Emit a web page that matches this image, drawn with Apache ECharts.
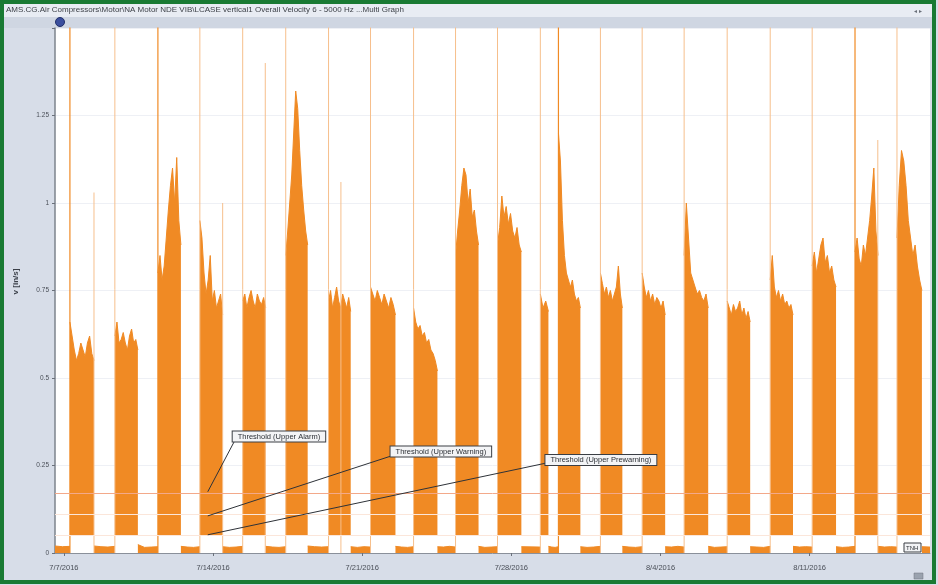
<!DOCTYPE html>
<html>
<head>
<meta charset="utf-8">
<script src="https://cdn.jsdelivr.net/npm/echarts@6/dist/echarts.min.js"></script>
<style>
  html, body { margin: 0; padding: 0; background: #ffffff; }
  #chart { width: 938px; height: 585px; }
</style>
</head>
<body>
<div id="chart"></div>
<script>
// ---- chart text ----
const chartTitle = 'AMS.CG.Air Compressors\\Motor\\NA Motor NDE VIB\\LCASE vertical1 Overall Velocity 6 - 5000 Hz ...Multi Graph';
const yAxisName = 'v [in/s]';

// ---- axes (x counted in days from 7/7/2016 00:00) ----
const xTickDays = [0, 7, 14, 21, 28, 35];
const yTickValues = [0, 0.25, 0.5, 0.75, 1, 1.25];
const axisStartDay = -0.42;
const axisEndDay = 40.65;

// ---- running periods: start / end day and the upper envelope of the readings ----
const runStartDay = [0.28, 2.39, 4.41, 6.38, 8.39, 10.41, 12.42, 14.39, 16.41, 18.38, 20.35, 22.36, 23.21, 25.18, 27.14, 29.11, 31.13, 33.15, 35.12, 37.13, 39.10];
const runEndDay   = [1.41, 3.47, 5.49, 7.45, 9.47, 11.44, 13.46, 15.56, 17.53, 19.46, 21.47, 22.74, 24.24, 26.21, 28.22, 30.24, 32.21, 34.22, 36.24, 38.21, 40.27];
const runFloor = 0.05;
const runEnvelope = [
  [0.66, 0.62, 0.58, 0.55, 0.57, 0.60, 0.58, 0.56, 0.60, 0.62, 0.57, 0.55],
  [0.62, 0.66, 0.60, 0.61, 0.63, 0.60, 0.58, 0.62, 0.64, 0.60, 0.61, 0.58],
  [0.80, 0.85, 0.78, 0.82, 0.90, 0.98, 1.05, 1.10, 1.00, 1.13, 0.95, 0.88],
  [0.95, 0.90, 0.80, 0.74, 0.78, 0.85, 0.72, 0.75, 0.70, 0.72, 0.74, 0.68],
  [0.72, 0.74, 0.70, 0.73, 0.75, 0.72, 0.70, 0.74, 0.72, 0.71, 0.73, 0.70],
  [0.85, 0.92, 1.00, 1.08, 1.20, 1.32, 1.27, 1.15, 1.05, 0.98, 0.92, 0.88],
  [0.72, 0.75, 0.70, 0.73, 0.76, 0.72, 0.70, 0.74, 0.72, 0.70, 0.73, 0.69],
  [0.76, 0.74, 0.72, 0.75, 0.73, 0.71, 0.74, 0.72, 0.70, 0.73, 0.71, 0.68],
  [0.70, 0.66, 0.64, 0.65, 0.62, 0.63, 0.60, 0.61, 0.58, 0.57, 0.55, 0.52],
  [0.85, 0.92, 0.98, 1.05, 1.10, 1.08, 1.00, 1.04, 0.96, 0.98, 0.92, 0.88],
  [0.88, 0.93, 1.02, 0.96, 0.99, 0.94, 0.97, 0.92, 0.90, 0.93, 0.88, 0.86],
  [0.74, 0.70, 0.72, 0.69],
  [1.20, 1.12, 0.95, 0.85, 0.80, 0.78, 0.76, 0.78, 0.74, 0.72, 0.73, 0.70],
  [0.80, 0.77, 0.74, 0.76, 0.73, 0.75, 0.72, 0.74, 0.76, 0.82, 0.74, 0.70],
  [0.80, 0.76, 0.73, 0.75, 0.72, 0.74, 0.71, 0.73, 0.72, 0.70, 0.72, 0.68],
  [0.85, 1.00, 0.90, 0.80, 0.78, 0.76, 0.74, 0.75, 0.73, 0.72, 0.74, 0.70],
  [0.72, 0.70, 0.68, 0.71, 0.69, 0.70, 0.72, 0.68, 0.70, 0.67, 0.69, 0.66],
  [0.78, 0.85, 0.76, 0.73, 0.75, 0.72, 0.74, 0.71, 0.72, 0.70, 0.71, 0.68],
  [0.82, 0.86, 0.80, 0.84, 0.88, 0.90, 0.83, 0.85, 0.80, 0.82, 0.78, 0.76],
  [0.86, 0.90, 0.84, 0.82, 0.88, 0.85, 0.90, 0.95, 1.02, 1.10, 0.92, 0.85],
  [0.90, 1.05, 1.15, 1.12, 1.05, 0.95, 0.90, 0.85, 0.88, 0.82, 0.78, 0.75]
];

// ---- idle readings between running periods (one list per gap, first gap before the first run) ----
const idleLevels = [
  [0.020, 0.018, 0.019],
  [0.020, 0.018, 0.017, 0.019],
  [0.024, 0.016, 0.017, 0.018],
  [0.019, 0.017, 0.016, 0.018],
  [0.018, 0.016, 0.017, 0.019],
  [0.019, 0.017, 0.016, 0.018],
  [0.020, 0.018, 0.017, 0.018],
  [0.018, 0.016, 0.018, 0.017],
  [0.019, 0.017, 0.016, 0.018],
  [0.018, 0.017, 0.019, 0.017],
  [0.019, 0.016, 0.017, 0.018],
  [0.018, 0.017],
  [0.019, 0.017, 0.016, 0.018],
  [0.018, 0.016, 0.017, 0.019],
  [0.019, 0.017, 0.016, 0.018],
  [0.018, 0.017, 0.019, 0.017],
  [0.019, 0.016, 0.017, 0.018],
  [0.018, 0.017, 0.016, 0.019],
  [0.019, 0.017, 0.018, 0.017],
  [0.018, 0.016, 0.017, 0.019],
  [0.019, 0.017, 0.018, 0.017],
  [0.018, 0.017]
];

// ---- start-up transients (reading at each run start; above 1.5 is off-scale) ----
const startSpikeTop = [1.6, 1.6, 1.6, 1.6, 1.6, 1.6, 1.6, 1.6, 1.6, 1.6, 1.6, 1.6, 1.6, 1.6, 1.6, 1.6, 1.6, 1.6, 1.6, 1.6, 1.6];
const startSpikeBright = [1, 0, 1, 0, 0, 0, 0, 0, 0, 0, 0, 0, 1, 0, 0, 0, 0, 0, 0, 1, 0];

// ---- isolated high readings ----
const strayDay = [1.41, 7.45, 9.45, 13.0, 38.2];
const strayTop = [1.03, 1.00, 1.40, 1.06, 1.18];

// ---- alarm limits ----
const thresholdNames = ['Threshold (Upper Alarm)', 'Threshold (Upper Warning)', 'Threshold (Upper Prewarning)'];
const thresholdValues = [0.175, 0.106, 0.052];

// ---- helpers ----
const DAY = 86400000;
const T0 = Date.UTC(2016, 6, 7);
const ORANGE = '#f08a24';
const PALE = '#f6bf8c';
const GAP = '-';
const FONT = 'Liberation Sans, Arial, sans-serif';

// running periods: envelope readings, filled down to the running floor
const runData = [];
runStartDay.forEach((s, i) => {
  const env = runEnvelope[i];
  const e = runEndDay[i];
  env.forEach((v, k) => {
    runData.push([s + (e - s) * k / (env.length - 1), v]);
  });
  runData.push([e + 0.001, GAP]);
});

// idle periods
const idleData = [];
idleLevels.forEach((lv, g) => {
  const s = g === 0 ? axisStartDay : runEndDay[g - 1];
  const e = g === runStartDay.length ? axisEndDay : runStartDay[g];
  lv.forEach((v, k) => {
    idleData.push([s + (e - s) * k / (lv.length - 1), v]);
  });
  idleData.push([e + 0.001, GAP]);
});

// vertical transients
function spikeSegments(days, tops) {
  const out = [];
  days.forEach((d, i) => {
    out.push([d, 0], [d, tops[i]], [d + 0.0001, GAP]);
  });
  return out;
}
const brightDays = [], brightTops = [], paleDays = [], paleTops = [];
runStartDay.forEach((d, i) => {
  if (startSpikeBright[i]) { brightDays.push(d); brightTops.push(startSpikeTop[i]); }
  else { paleDays.push(d); paleTops.push(startSpikeTop[i]); }
});

const fmtDate = v => {
  const dt = new Date(T0 + Math.round(v * DAY));
  return (dt.getUTCMonth() + 1) + '/' + dt.getUTCDate() + '/' + dt.getUTCFullYear();
};

// callout boxes (label anchor day/value, leader start day/value)
const callouts = [
  { label: [7.92, 0.333], from: [7.99, 0.318] },
  { label: [15.33, 0.290], from: [15.45, 0.279] },
  { label: [22.60, 0.266], from: [22.72, 0.258] }
];
const calloutAnchorDay = 6.75;

const chart = echarts.init(document.getElementById('chart'), null, { renderer: 'canvas' });

const option = {
  animation: false,
  backgroundColor: '#d7dde8',
  textStyle: { fontFamily: FONT },
  grid: { left: 55, right: 8, top: 28, bottom: 32, show: true, backgroundColor: '#ffffff', borderWidth: 0 },
  xAxis: {
    type: 'value',
    min: axisStartDay,
    max: axisEndDay,
    axisLine: { show: true, onZero: false, lineStyle: { color: '#8a909a', width: 1 } },
    axisTick: { show: true, length: 3, lineStyle: { color: '#6a707a' }, customValues: xTickDays },
    axisLabel: { customValues: xTickDays, formatter: fmtDate, color: '#4a4f58', fontSize: 7.5, margin: 11 },
    splitLine: { show: false }
  },
  yAxis: {
    type: 'value',
    min: 0, max: 1.5, interval: 0.25,
    name: yAxisName, nameLocation: 'middle', nameGap: 35, nameRotate: 90,
    nameTextStyle: { color: '#3a3f48', fontSize: 8, fontWeight: 'bold', padding: [0, 0, 0, 18] },
    axisLine: { show: true, onZero: false, lineStyle: { color: '#7d838d', width: 1.5 } },
    axisTick: { show: true, length: 3, lineStyle: { color: '#6a707a' } },
    axisLabel: { customValues: yTickValues, color: '#4a4f58', fontSize: 6.5, margin: 6 },
    splitLine: { show: true, lineStyle: { color: '#eef0f5', width: 1 } }
  },
  series: [
    {
      name: 'idle', type: 'line', data: idleData, symbol: 'none', silent: true,
      lineStyle: { color: ORANGE, width: 1 }, areaStyle: { color: ORANGE, opacity: 1, origin: 0 }
    },
    {
      name: 'Overall Velocity', type: 'line', data: runData, symbol: 'none', silent: true,
      lineStyle: { color: ORANGE, width: 1 }, areaStyle: { color: ORANGE, opacity: 1, origin: runFloor }
    },
    {
      name: 'startPale', type: 'line', data: spikeSegments(paleDays, paleTops), symbol: 'none', silent: true,
      lineStyle: { color: PALE, width: 1 }
    },
    {
      name: 'startBright', type: 'line', data: spikeSegments(brightDays, brightTops), symbol: 'none', silent: true,
      lineStyle: { color: ORANGE, width: 1.2 }
    },
    {
      name: 'stray', type: 'line', data: spikeSegments(strayDay, strayTop), symbol: 'none', silent: true,
      lineStyle: { color: PALE, width: 1 }
    },
    {
      name: 'thresholds', type: 'line', data: [], silent: true,
      markLine: {
        silent: true, symbol: 'none', label: { show: false },
        data: thresholdValues.map((v, i) => ({
          yAxis: v,
          lineStyle: { color: i === 0 ? '#f3a98a' : '#fbe6da', width: 1, type: 'solid' }
        }))
      }
    },
    {
      name: 'callouts', type: 'line', data: [], silent: true,
      markLine: {
        silent: true, symbol: 'none', label: { show: false },
        lineStyle: { color: '#2e3238', width: 1, type: 'solid' },
        data: callouts.map((c, i) => [
          { coord: [c.from[0], c.from[1]] },
          { coord: [calloutAnchorDay, thresholdValues[i]] }
        ])
      },
      markPoint: {
        silent: true, symbol: 'rect', symbolSize: 0,
        data: callouts.map((c, i) => ({
          coord: [c.label[0], c.label[1]],
          label: {
            show: true, position: 'right', distance: 0,
            formatter: thresholdNames[i],
            color: '#2b2f35', fontSize: 7.5,
            backgroundColor: '#f3f4f6', borderColor: '#3a3e44', borderWidth: 1,
            padding: [1, 5, 1, 5]
          }
        }))
      }
    }
  ],
  graphic: [
    { type: 'rect', shape: { x: 4, y: 4, width: 928, height: 13 }, style: { fill: '#e8ecf3' }, silent: true },
    { type: 'rect', shape: { x: 4, y: 17, width: 928, height: 11 }, style: { fill: '#cfd6e2' }, silent: true },
    { type: 'text', x: 6, y: 6, style: { text: chartTitle, fill: '#3b3f46', fontSize: 8, fontFamily: FONT }, silent: true },
    { type: 'text', x: 914, y: 8, style: { text: '◂ ▸', fill: '#6a707a', fontSize: 6 }, silent: true },
    { type: 'circle', shape: { cx: 60, cy: 22, r: 4.5 }, style: { fill: '#3b4f9e', stroke: '#22306a', lineWidth: 1 }, silent: true },
    { type: 'rect', shape: { x: 904, y: 543, width: 17, height: 9 }, style: { fill: '#f2f3f5', stroke: '#3a3e44', lineWidth: 1 }, silent: true },
    { type: 'text', x: 906, y: 545, style: { text: 'TNH', fill: '#2b2f35', fontSize: 6 }, silent: true },
    { type: 'rect', shape: { x: 914, y: 573, width: 9, height: 6 }, style: { fill: '#9aa2ae', stroke: '#6c737e', lineWidth: 0.5 }, silent: true },
    { type: 'rect', shape: { x: 2, y: 2, width: 932, height: 580 }, style: { fill: 'none', stroke: '#197a33', lineWidth: 4 }, silent: true }
  ]
};

chart.setOption(option);
</script>
</body>
</html>
